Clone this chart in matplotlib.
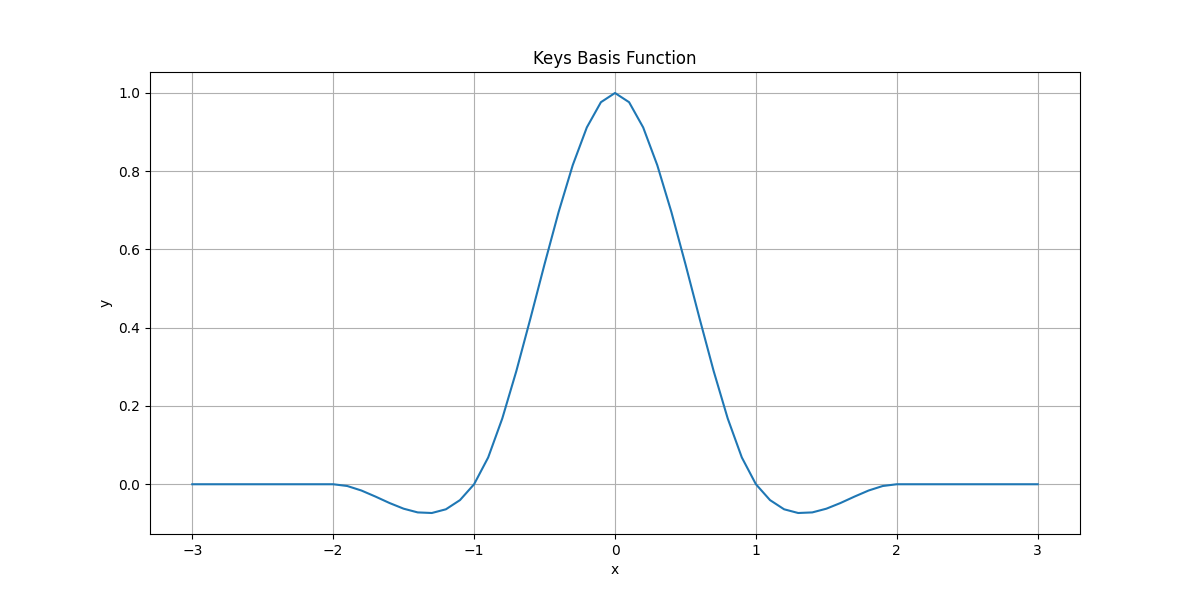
import matplotlib.pyplot as plt
import numpy as np

# samples, x from -3 to 3 in steps of 0.1
x_values = np.round(np.arange(-30, 31) / 10, 1)
y_values = [
    0.0, 0.0, 0.0, 0.0, 0.0, 0.0, 0.0, 0.0, 0.0, 0.0,
    0.0, -0.0045, -0.016, -0.0315, -0.048, -0.0625, -0.072, -0.0735, -0.064, -0.0405,
    0.0, 0.0685, 0.168, 0.2895, 0.424, 0.5625, 0.696, 0.8155, 0.912, 0.9765,
    1.0,
    0.9765, 0.912, 0.8155, 0.696, 0.5625, 0.424, 0.2895, 0.168, 0.0685, 0.0,
    -0.0405, -0.064, -0.0735, -0.072, -0.0625, -0.048, -0.0315, -0.016, -0.0045, 0.0,
    0.0, 0.0, 0.0, 0.0, 0.0, 0.0, 0.0, 0.0, 0.0, 0.0,
]

fig, ax = plt.subplots(figsize=(12, 6), dpi=100)
ax.plot(x_values, y_values, color="#1f77b4", linewidth=1.5)
ax.set_title("Keys Basis Function")
ax.set_xlabel("x")
ax.set_ylabel("y")
ax.grid(True)
fig.savefig("out.png")
